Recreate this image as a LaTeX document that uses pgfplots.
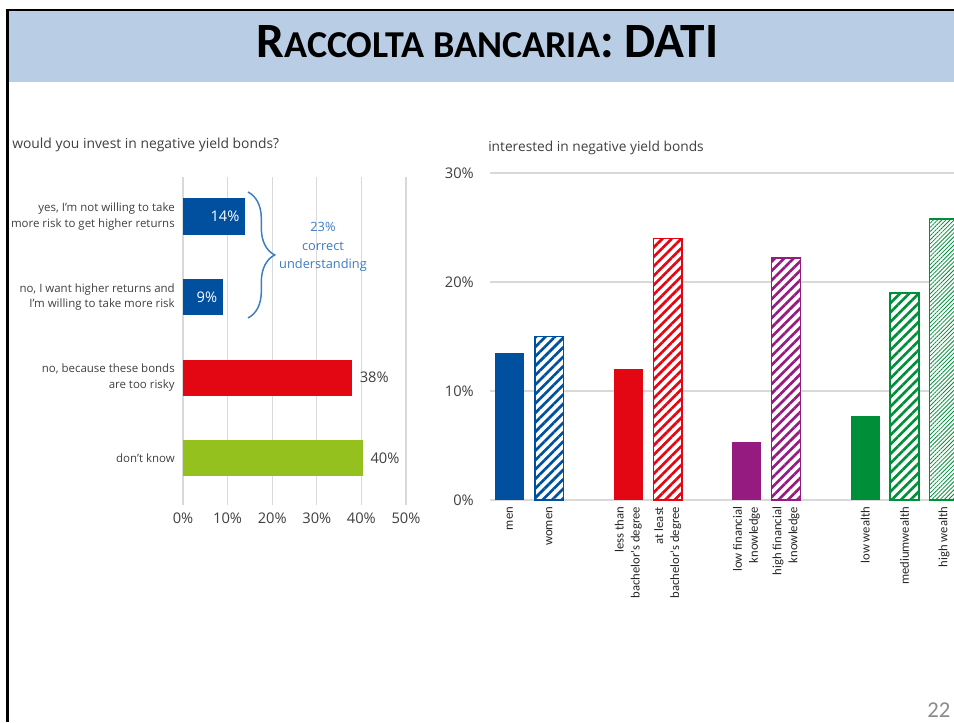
\documentclass[border=0pt]{standalone}
\usepackage{fontspec}
\setmainfont{Open Sans}
\newfontfamily\calibri{Carlito}
\usepackage{pgfplots}
\pgfplotsset{compat=1.18}
\usetikzlibrary{patterns.meta,decorations.pathreplacing}

\definecolor{banner}{HTML}{B9CDE5}
\definecolor{dblue}{HTML}{0050A0}
\definecolor{dred}{HTML}{E30613}
\definecolor{dlime}{HTML}{95C11F}
\definecolor{dpurple}{HTML}{951B81}
\definecolor{dgreen}{HTML}{008F39}
\definecolor{noteblue}{HTML}{3C7DC4}
\definecolor{gridgrey}{HTML}{D9D9D9}
\definecolor{txtgrey}{HTML}{404040}
\definecolor{pagegrey}{HTML}{8C8C8C}

\newcommand\fs[2]{\fontsize{#1}{#2}\selectfont}

\pgfplotsset{
  solidbar/.style={ybar, bar shift=0pt, bar width=0.73, fill=#1, draw=none},
  hatchbar/.style={ybar, bar shift=0pt, bar width=0.73, fill=white, draw=#1, line width=1.1pt,
    postaction={pattern={Lines[angle=45,distance=5pt,line width=2pt]}, pattern color=#1}},
  finebar/.style={ybar, bar shift=0pt, bar width=0.73, fill=white, draw=#1, line width=1.1pt,
    postaction={pattern={Lines[angle=45,distance=2.2pt,line width=0.6pt]}, pattern color=#1}},
}

\begin{document}
\begin{tikzpicture}[x=0.75pt,y=0.75pt]
\useasboundingbox (0,0) rectangle (954,722);
\clip (0,0) rectangle (954,722);
\fill[white] (0,0) rectangle (954,722);
\fill[banner] (8,640) rectangle (954,712);
\draw[black,line width=1.6pt] (7.5,0) -- (7.5,712) -- (954,712);
\node[anchor=base, inner sep=0pt] at (487.5,664)
  {\calibri\bfseries\fs{37}{37}R\fs{28.5}{28}ACCOLTA BANCARIA\fs{37}{37}: DATI};

\node[anchor=base west, inner sep=0pt, text=txtgrey] at (12,573)
  {\fs{10.4}{12}would you invest in negative yield bonds?};
\node[anchor=base west, inner sep=0pt, text=txtgrey] at (488,570)
  {\fs{10.3}{12}interested in negative yield bonds};

% left chart
\begin{axis}[
  at={(137.25pt,162.75pt)}, anchor=south west,
  scale only axis, width=167.25pt, height=246pt,
  xmin=0, xmax=50, ymin=-0.49, ymax=3.58, y dir=reverse,
  axis line style={draw=none}, tick style={draw=none},
  xmajorgrids, grid style={gridgrey, line width=1pt},
  xtick={0,10,20,30,40,50},
  xticklabel={\pgfmathprintnumber{\tick}\%},
  xticklabel style={font=\fs{11}{11}, text=txtgrey, inner sep=0pt, yshift=-6pt},
  /pgf/number format/assume math mode=true,
  ytick={0,1,2,3},
  yticklabels={{yes, I'm not willing to take\\more risk to get higher returns},
    {no, I want higher returns and\\I'm willing to take more risk},
    {no, because these bonds\\are too risky},
    {don't know}},
  yticklabel style={align=right, font=\fs{8.6}{11.5}, text=txtgrey, inner sep=0pt, xshift=-6pt},
  clip=false,
]
\addplot[xbar, bar shift=0pt, bar width=0.45, fill=dblue, draw=none,
  nodes near coords={14\%},
  every node near coord/.append style={anchor=east, text=white, font=\fs{11}{11}, xshift=-1pt}]
  coordinates {(14,0)};
\addplot[xbar, bar shift=0pt, bar width=0.45, fill=dblue, draw=none,
  nodes near coords={9\%},
  every node near coord/.append style={anchor=east, text=white, font=\fs{11}{11}, xshift=-1pt}]
  coordinates {(9,1)};
\addplot[xbar, bar shift=0pt, bar width=0.45, fill=dred, draw=none,
  nodes near coords={38\%},
  every node near coord/.append style={anchor=west, text=txtgrey, font=\fs{11}{11}, xshift=2pt}]
  coordinates {(38,2)};
\addplot[xbar, bar shift=0pt, bar width=0.45, fill=dlime, draw=none,
  nodes near coords={40\%},
  every node near coord/.append style={anchor=west, text=txtgrey, font=\fs{11}{11}, xshift=2pt}]
  coordinates {(40.4,3)};
\end{axis}

% right chart
\begin{axis}[
  at={(367.5pt,166.5pt)}, anchor=south west,
  scale only axis, width=348pt, height=245.25pt,
  xmin=-0.5, xmax=11.25, ymin=0, ymax=30,
  axis line style={draw=none}, tick style={draw=none},
  ymajorgrids, grid style={gridgrey, line width=1pt},
  ytick={0,10,20,30},
  yticklabel={\pgfmathprintnumber{\tick}\%},
  yticklabel style={font=\fs{11}{11}, text=txtgrey, inner sep=0pt, xshift=-12pt},
  /pgf/number format/assume math mode=true,
  xtick={0,1,3,4,6,7,9,10,11},
  xticklabels={men,women,{less than\\bachelor's degree},{at least\\bachelor's degree},
    {low financial\\knowledge},{high financial\\knowledge},low wealth,mediumwealth,high wealth},
  xticklabel style={yshift=-5pt, rotate=90, anchor=east, align=right, inner sep=0pt,
    font=\calibri\fs{9.5}{12}, text=black!85},
]
\addplot[solidbar=dblue] coordinates {(0,13.5)};
\addplot[hatchbar=dblue] coordinates {(1,15.0)};
\addplot[solidbar=dred] coordinates {(3,12.0)};
\addplot[hatchbar=dred] coordinates {(4,24.0)};
\addplot[solidbar=dpurple] coordinates {(6,5.3)};
\addplot[hatchbar=dpurple] coordinates {(7,22.2)};
\addplot[solidbar=dgreen] coordinates {(9,7.7)};
\addplot[hatchbar=dgreen] coordinates {(10,19.0)};
\addplot[finebar=dgreen] coordinates {(11,25.8)};
\end{axis}

\draw[noteblue, line width=1.1pt, decorate, decoration={brace, amplitude=20pt}]
  (248,530) -- (248,404);
\node[align=center, text=noteblue, font=\fs{9.6}{14}] at (323,475)
  {23\%\\correct\\understanding};

\node[anchor=south east, inner sep=1pt, text=pagegrey] at (952,3) {\calibri\fs{17}{17}22};
\end{tikzpicture}
\end{document}
